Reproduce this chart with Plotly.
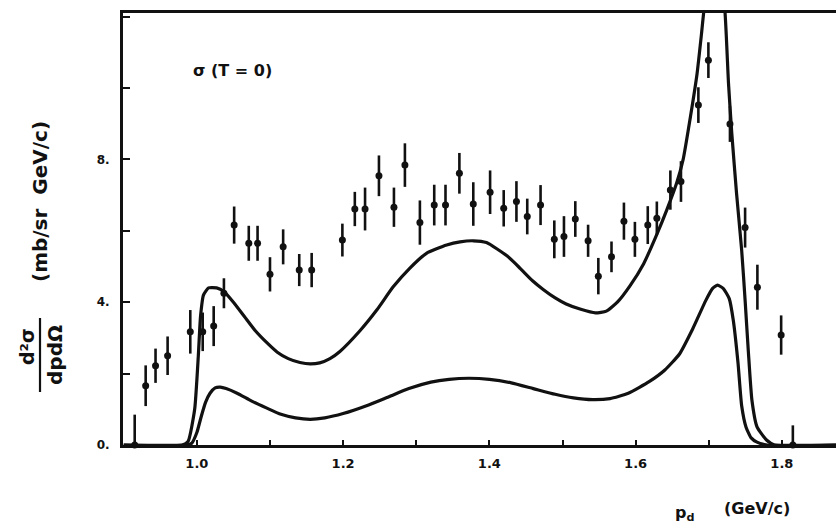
import plotly.graph_objects as go

# ---- data ----
p_data = [0.915, 0.930, 0.9435, 0.960, 0.991, 1.008, 1.023, 1.037, 1.051, 1.071,
          1.083, 1.100, 1.118, 1.140, 1.157, 1.199, 1.216, 1.230, 1.249, 1.2695,
          1.2845, 1.305, 1.3246, 1.340, 1.359, 1.378, 1.401, 1.4196, 1.437, 1.4518,
          1.470, 1.4888, 1.502, 1.5175, 1.535, 1.549, 1.567, 1.584, 1.599, 1.6166,
          1.629, 1.6475, 1.662, 1.6858, 1.6995, 1.729, 1.7497, 1.7665, 1.799, 1.815]
sigma_data = [0.0, 1.66, 2.22, 2.50, 3.17, 3.17, 3.33, 4.25, 6.16, 5.65,
              5.65, 4.78, 5.55, 4.90, 4.90, 5.74, 6.61, 6.61, 7.54, 6.66,
              7.84, 6.23, 6.72, 6.72, 7.61, 6.75, 7.08, 6.63, 6.82, 6.40,
              6.72, 5.76, 5.84, 6.33, 5.72, 4.73, 5.27, 6.27, 5.76, 6.16,
              6.35, 7.14, 7.38, 9.52, 10.78, 8.99, 6.09, 4.42, 3.08, 0.0]
sigma_err = [0.85, 0.57, 0.48, 0.54, 0.61, 0.54, 0.56, 0.42, 0.52, 0.49,
             0.49, 0.48, 0.49, 0.45, 0.48, 0.46, 0.48, 0.60, 0.57, 0.55,
             0.61, 0.62, 0.57, 0.57, 0.57, 0.61, 0.61, 0.51, 0.57, 0.50,
             0.56, 0.53, 0.57, 0.50, 0.45, 0.51, 0.43, 0.52, 0.49, 0.53,
             0.47, 0.55, 0.57, 0.50, 0.50, 0.50, 0.56, 0.63, 0.55, 0.55]

p_upper = [0.900, 0.980, 0.988, 0.997, 1.002, 1.005, 1.009, 1.016, 1.027, 1.037,
           1.050, 1.065, 1.080, 1.095, 1.110, 1.125, 1.141, 1.155, 1.168, 1.182,
           1.1956, 1.223, 1.246, 1.2685, 1.291, 1.314, 1.3416, 1.360, 1.378, 1.396,
           1.424, 1.442, 1.459, 1.474, 1.490, 1.505, 1.525, 1.545, 1.560, 1.575,
           1.592, 1.611, 1.629, 1.6425, 1.656, 1.665, 1.675, 1.684, 1.690, 1.694,
           1.700, 1.707, 1.715, 1.722, 1.727, 1.7315, 1.738, 1.745, 1.7497, 1.754,
           1.759, 1.766, 1.779, 1.790, 1.874]
sigma_upper = [0.0, 0.0, 0.10, 1.00, 2.50, 3.60, 4.20, 4.40, 4.40, 4.30,
               4.00, 3.60, 3.20, 2.88, 2.60, 2.42, 2.31, 2.27, 2.30, 2.42,
               2.62, 3.20, 3.78, 4.43, 4.95, 5.37, 5.60, 5.69, 5.72, 5.67,
               5.30, 4.95, 4.60, 4.35, 4.12, 3.95, 3.80, 3.70, 3.75, 4.00,
               4.45, 5.08, 5.90, 6.58, 7.33, 8.00, 9.20, 10.40, 11.50, 12.30,
               13.2, 13.6, 13.2, 12.18, 10.13, 8.73, 7.05, 5.46, 4.06, 2.66,
               1.26, 0.51, 0.14, 0.0, 0.0]

p_lower = [0.900, 0.985, 0.993, 1.000, 1.006, 1.012, 1.018, 1.025, 1.032, 1.040,
           1.055, 1.075, 1.095, 1.115, 1.135, 1.155, 1.175, 1.200, 1.232, 1.260,
           1.290, 1.320, 1.345, 1.372, 1.400, 1.430, 1.460, 1.490, 1.515, 1.541,
           1.565, 1.590, 1.619, 1.640, 1.660, 1.678, 1.696, 1.705, 1.712, 1.720,
           1.728, 1.7335, 1.740, 1.745, 1.751, 1.758, 1.766, 1.780, 1.874]
sigma_lower = [0.0, 0.0, 0.05, 0.35, 0.80, 1.20, 1.45, 1.60, 1.62, 1.58,
               1.45, 1.23, 1.04, 0.86, 0.76, 0.72, 0.76, 0.88, 1.10, 1.33,
               1.58, 1.76, 1.84, 1.87, 1.84, 1.74, 1.58, 1.42, 1.32, 1.27,
               1.30, 1.45, 1.78, 2.10, 2.55, 3.25, 4.05, 4.38, 4.48, 4.38,
               4.10, 3.50, 2.30, 1.10, 0.50, 0.20, 0.08, 0.0, 0.0]

x_tickvals = [1.0, 1.2, 1.4, 1.6, 1.8]
x_ticktext = ["1.0", "1.2", "1.4", "1.6", "1.8"]
y_tickvals = [0, 4, 8]
y_ticktext = ["0.", "4.", "8."]

FONT = "DejaVu Sans, Liberation Sans, Arial, sans-serif"
INK = "#111111"

fig = go.Figure()

fig.add_trace(go.Scatter(x=p_upper, y=sigma_upper, mode="lines",
                         line=dict(color=INK, width=3.2, shape="spline", smoothing=0.5),
                         showlegend=False, hoverinfo="skip"))
fig.add_trace(go.Scatter(x=p_lower, y=sigma_lower, mode="lines",
                         line=dict(color=INK, width=3.2, shape="spline", smoothing=0.5),
                         showlegend=False, hoverinfo="skip"))
fig.add_trace(go.Scatter(x=p_data, y=sigma_data, mode="markers",
                         marker=dict(color=INK, size=7, symbol="circle"),
                         error_y=dict(type="data", array=sigma_err, visible=True,
                                      color=INK, thickness=2.6, width=0),
                         showlegend=False, cliponaxis=False))

fig.update_layout(
    width=836, height=527,
    margin=dict(l=123, r=0, t=13, b=82),
    paper_bgcolor="white", plot_bgcolor="white",
    font=dict(family=FONT, color=INK),
    xaxis=dict(range=[0.899, 1.874], showgrid=False, zeroline=False,
               showline=True, linecolor=INK, linewidth=3, mirror=True,
               ticks="inside", ticklen=5, tickwidth=2, tickcolor=INK,
               tickvals=x_tickvals, ticktext=x_ticktext, ticklabelstandoff=4,
               minor=dict(tick0=1.0, dtick=0.1, ticks="inside", ticklen=5,
                          tickwidth=2, tickcolor=INK),
               tickfont=dict(size=13, family=FONT, color=INK, weight="bold")),
    yaxis=dict(range=[0, 12.1], showgrid=False, zeroline=False,
               showline=True, linecolor=INK, linewidth=3,
               ticks="inside", ticklen=7, tickwidth=2, tickcolor=INK,
               tickvals=y_tickvals, ticktext=y_ticktext, ticklabelstandoff=8,
               minor=dict(tick0=0, dtick=2, ticks="inside", ticklen=7,
                          tickwidth=2, tickcolor=INK),
               tickfont=dict(size=12, family=FONT, color=INK, weight="bold")),
)

annos = [
    dict(text="<b>σ (T = 0)</b>", x=0.1529, y=0.868, size=16, angle=0),
    dict(text="<b>(mb/sr  GeV/c)</b>", x=-0.1164, y=0.5625, size=20, angle=-90),
    dict(text="<b>d²σ</b>", x=-0.1346, y=0.2269, size=19, angle=-90),
    dict(text="<b>dpdΩ</b>", x=-0.0954, y=0.2083, size=20, angle=-90),
    dict(text="<b>p<sub>d</sub></b>", x=0.788, y=-0.158, size=16, angle=0),
    dict(text="<b>(GeV/c)</b>", x=0.889, y=-0.148, size=16, angle=0),
]
for a in annos:
    fig.add_annotation(xref="paper", yref="paper", showarrow=False,
                       xanchor="center", yanchor="middle",
                       font=dict(family=FONT, color=INK, size=a["size"]),
                       text=a["text"], x=a["x"], y=a["y"], textangle=a["angle"])

# fraction bar of the y-axis title
fig.add_shape(type="line", xref="paper", yref="paper",
              x0=-0.1164, x1=-0.1164, y0=0.1227, y1=0.294,
              line=dict(color=INK, width=2.2))

fig.write_html("out.html", config={"displayModeBar": False},
               post_script="document.body.style.margin='0';document.body.style.overflow='hidden';")
